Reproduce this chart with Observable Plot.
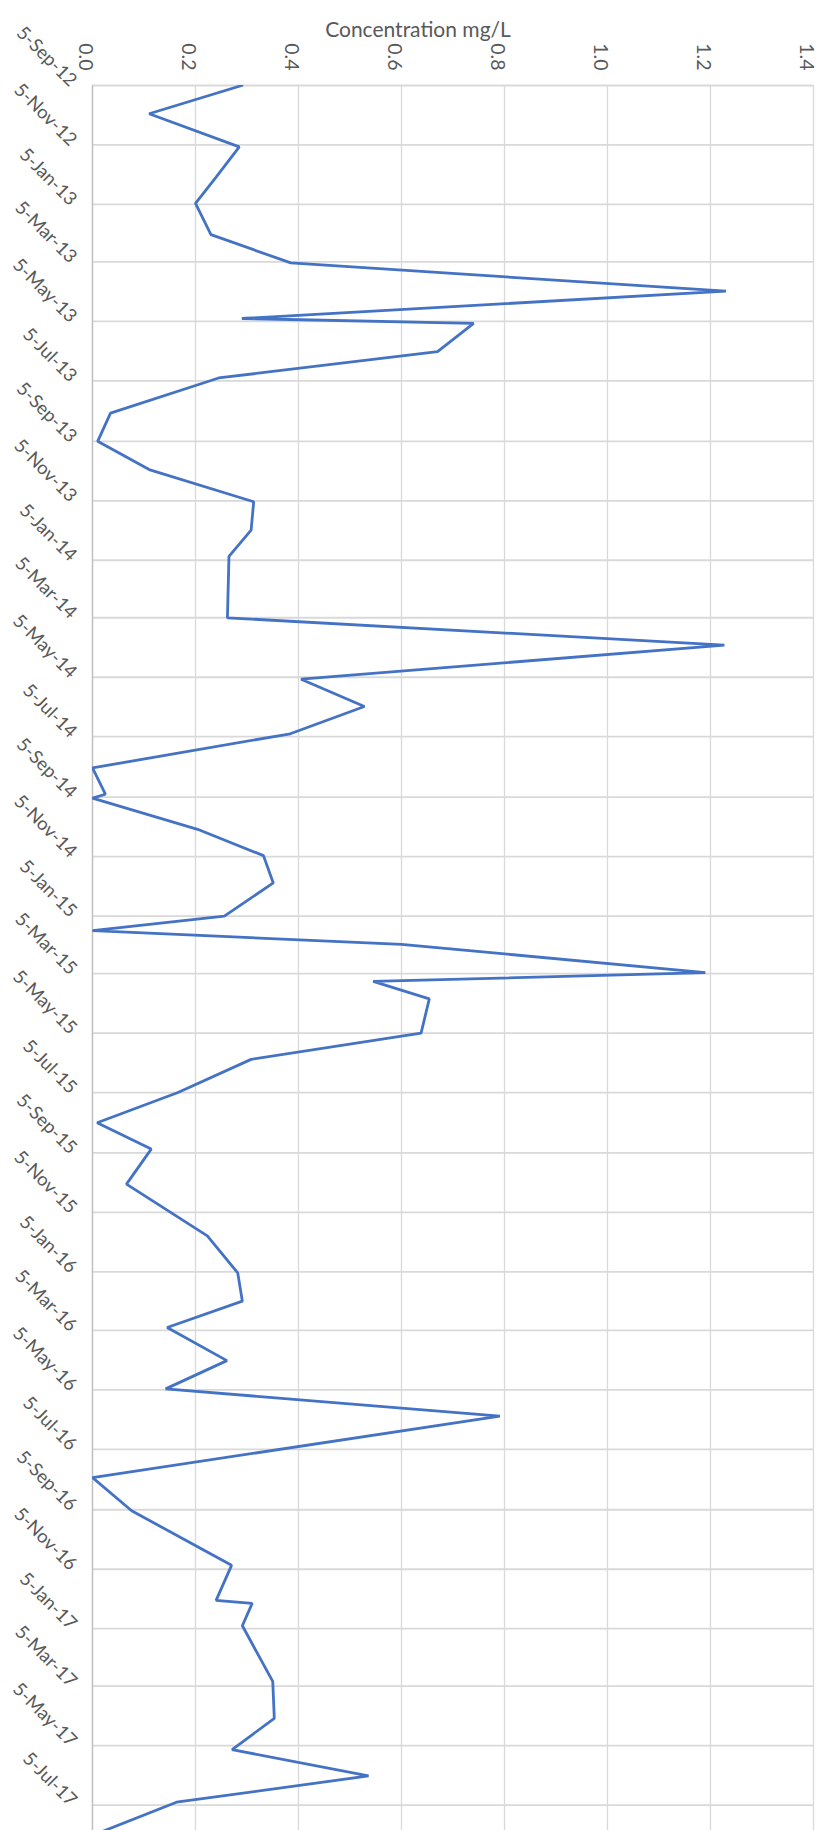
<!DOCTYPE html>
<html>
<head>
<meta charset="utf-8">
<script src="https://cdn.jsdelivr.net/npm/d3@7"></script>
<script src="https://cdn.jsdelivr.net/npm/@observablehq/plot@0.6"></script>
<style>
  html, body { margin: 0; padding: 0; background: #ffffff; }
  #chart svg { display: block; }
</style>
</head>
<body>
<div id="chart"></div>
<script>
// Sampling dates (ISO) and measured concentration in mg/L
const sampleDates = [
  "2012-09-05", "2012-10-04", "2012-11-07", "2012-12-08", "2013-01-04", "2013-02-05",
  "2013-03-06", "2013-04-04", "2013-05-02", "2013-05-07", "2013-06-05", "2013-07-02",
  "2013-08-07", "2013-09-05", "2013-10-04", "2013-11-06", "2013-12-05", "2014-01-01",
  "2014-03-05", "2014-04-02", "2014-05-07", "2014-06-04", "2014-07-02", "2014-08-06",
  "2014-09-02", "2014-09-06", "2014-10-08", "2014-11-04", "2014-12-02", "2015-01-05",
  "2015-01-20", "2015-02-03", "2015-03-04", "2015-03-13", "2015-03-31", "2015-05-05",
  "2015-06-01", "2015-07-05", "2015-08-05", "2015-09-01", "2015-10-07", "2015-11-29",
  "2016-01-06", "2016-02-04", "2016-03-02", "2016-04-05", "2016-05-04", "2016-06-01",
  "2016-08-03", "2016-09-06", "2016-11-01", "2016-12-07", "2016-12-10", "2017-01-02",
  "2017-02-28", "2017-04-07", "2017-05-09", "2017-06-05", "2017-07-02", "2017-08-05"
];
const concentrations = [
  0.29, 0.11, 0.285, 0.24, 0.20, 0.23,
  0.385, 1.23, 0.29, 0.74, 0.67, 0.245,
  0.035, 0.01, 0.11, 0.313, 0.308, 0.265,
  0.262, 1.227, 0.405, 0.528, 0.384, 0.0,
  0.025, 0.0, 0.204, 0.332, 0.351, 0.256,
  0.0, 0.60, 1.19, 0.545, 0.654, 0.638,
  0.308, 0.166, 0.009, 0.114, 0.066, 0.223,
  0.282, 0.291, 0.145, 0.261, 0.142, 0.791,
  0.0, 0.076, 0.27, 0.24, 0.31, 0.291,
  0.35, 0.353, 0.271, 0.536, 0.163, 0.0
];

// Date axis: major ticks every two months
const dateTicks = [
  "2012-09-05", "2012-11-05", "2013-01-05", "2013-03-05", "2013-05-05", "2013-07-05",
  "2013-09-05", "2013-11-05", "2014-01-05", "2014-03-05", "2014-05-05", "2014-07-05",
  "2014-09-05", "2014-11-05", "2015-01-05", "2015-03-05", "2015-05-05", "2015-07-05",
  "2015-09-05", "2015-11-05", "2016-01-05", "2016-03-05", "2016-05-05", "2016-07-05",
  "2016-09-05", "2016-11-05", "2017-01-05", "2017-03-05", "2017-05-05", "2017-07-05"
];
const dateDomain = ["2012-09-05", "2017-07-31"];

// Concentration axis
const valueTicks = [0, 0.2, 0.4, 0.6, 0.8, 1.0, 1.2, 1.4];
const axisTitle = "Concentration mg/L";

const parse = d3.utcParse("%Y-%m-%d");
const fmtDate = d3.utcFormat("%-d-%b-%y");
const samples = sampleDates.map((d, i) => ({ date: parse(d), value: concentrations[i] }));
const tickDates = dateTicks.map(parse);

const labelColor = "#595959";
const font = "Lato, 'Open Sans', sans-serif";

const chart = Plot.plot({
  width: 827,
  height: 1830,
  marginTop: 85,
  marginLeft: 92,
  marginRight: 14,
  marginBottom: 0,
  style: { fontFamily: font, background: "#ffffff" },
  x: { domain: [0, 1.4], axis: null },
  // time runs downward from the top edge
  y: { type: "utc", domain: dateDomain.map(parse), reverse: true, axis: null },
  marks: [
    // value gridlines
    Plot.ruleX(valueTicks.slice(1), { stroke: "#d9d9d9", strokeWidth: 1.3 }),
    // date gridlines
    Plot.ruleY(tickDates, { stroke: "#d9d9d9", strokeWidth: 1.8 }),
    // category axis line at zero
    Plot.ruleX([0], { stroke: "#bfbfbf", strokeWidth: 1.5 }),
    // concentration series
    Plot.line(samples, {
      x: "value", y: "date",
      stroke: "#4472c4", strokeWidth: 2.8,
      strokeLinejoin: "miter", clip: true
    }),
    // value tick labels, rotated to read downward
    Plot.text(valueTicks, {
      x: d => d, text: d => d.toFixed(1),
      frameAnchor: "top", dy: -15, rotate: 90, textAnchor: "end",
      fill: labelColor, fontSize: 19.5
    }),
    // date tick labels on a diagonal
    Plot.text(tickDates, {
      y: d => d, text: d => fmtDate(d),
      frameAnchor: "left", dx: -19, dy: -2, rotate: 45, textAnchor: "end",
      fill: labelColor, fontSize: 18.5
    }),
    // axis title
    Plot.text([axisTitle], {
      text: d => d, frameAnchor: "top", dx: -35, dy: -63,
      fill: labelColor, fontSize: 21
    })
  ]
});

document.getElementById("chart").appendChild(chart);
</script>
</body>
</html>
